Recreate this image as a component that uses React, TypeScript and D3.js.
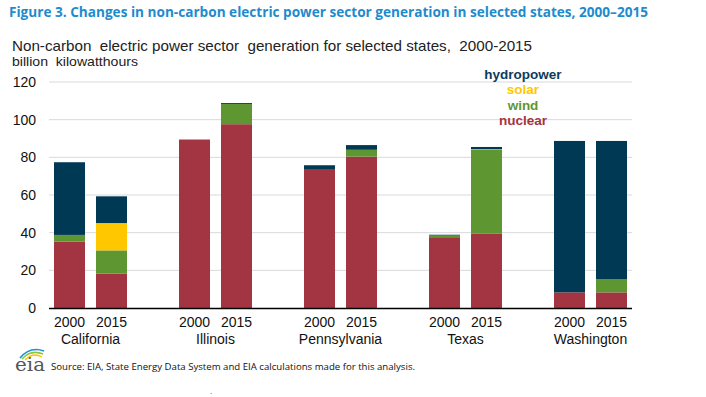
import React from "react";
import * as d3 from "d3";

const states = ["California", "Illinois", "Pennsylvania", "Texas", "Washington"];
const years = ["2000", "2015"];
const sources = ["nuclear", "wind", "solar", "hydropower"];
// values per state-year, in billion kWh, ordered as states x years
const nuclear = [35.2, 18.2, 89.3, 97.6, 73.8, 80.4, 37.6, 39.6, 8.3, 8.3];
const wind = [3.6, 12.4, 0.1, 10.7, 0.0, 3.5, 0.9, 44.3, 0.0, 7.1];
const solar = [0.0, 14.5, 0.0, 0.0, 0.0, 0.1, 0.0, 0.4, 0.0, 0.0];
const hydropower = [38.6, 14.2, 0.1, 0.5, 2.0, 2.5, 0.4, 1.2, 80.4, 73.3];
const yTicks = [0, 20, 40, 60, 80, 100, 120];

const colors: Record<string, string> = {
  nuclear: "#a33441",
  wind: "#5e9732",
  solar: "#ffc700",
  hydropower: "#003953",
};
const legendColors: Record<string, string> = {
  nuclear: "#a33441",
  wind: "#5e9732",
  solar: "#ffc700",
  hydropower: "#0d3b5c",
};

export default function App() {
  const W = 706, H = 397;
  const y = d3.scaleLinear().domain([0, 120]).range([308, 82]);
  const xState = d3.scaleBand().domain(states).range([28, 653]).padding(0);
  const xYear = d3.scaleBand().domain(years).range([26, 99]).paddingInner(11 / 42).paddingOuter(0);

  const rows = states.flatMap((s, i) =>
    years.map((yr, j) => {
      const k = i * 2 + j;
      return { state: s, year: yr, nuclear: nuclear[k], wind: wind[k], solar: solar[k], hydropower: hydropower[k] };
    })
  );
  const stack = d3.stack<any>().keys(sources)(rows);
  const font = "'Liberation Sans', Arial, sans-serif";

  return (
    <svg width={W} height={H} style={{ position: "absolute", left: 0, top: 0, background: "#fff" }}>
      <text x={9} y={17} fontFamily="'Open Sans', sans-serif" fontWeight={700} fontSize={14.5} fill="#1e8bcd" textLength={639} lengthAdjust="spacingAndGlyphs">
        Figure 3. Changes in non-carbon electric power sector generation in selected states, 2000–2015
      </text>
      <text x={12} y={51} fontFamily={font} fontSize={15} fill="#222" textLength={520} lengthAdjust="spacingAndGlyphs" style={{ whiteSpace: "pre" }}>
        {"Non-carbon  electric power sector  generation for selected states,  2000-2015"}
      </text>
      <text x={12} y={66} fontFamily={font} fontSize={13} fill="#222" textLength={126} lengthAdjust="spacingAndGlyphs" style={{ whiteSpace: "pre" }}>
        {"billion  kilowatthours"}
      </text>

      {yTicks.filter((t) => t > 0).map((t) => (
        <line key={t} x1={49} x2={632} y1={y(t)} y2={y(t)} stroke="#d9d9d9" strokeWidth={1} />
      ))}
      {yTicks.map((t) => (
        <text key={"l" + t} x={36} y={y(t) + 5} textAnchor="end" fontFamily={font} fontSize={14} fill="#111">
          {t}
        </text>
      ))}

      {stack.map((layer) => (
        <g key={layer.key} fill={colors[layer.key]}>
          {layer.map((d, i) => {
            const r = rows[i];
            const h = y(d[0]) - y(d[1]);
            if (h <= 0) return null;
            return (
              <rect key={i} x={(xState(r.state) || 0) + (xYear(r.year) || 0)} y={y(d[1])} width={xYear.bandwidth()} height={h} />
            );
          })}
        </g>
      ))}

      <line x1={49} x2={632} y1={308.5} y2={308.5} stroke="#000" strokeWidth={1.5} />

      {rows.map((r, i) => (
        <text key={"y" + i} x={(xState(r.state) || 0) + (xYear(r.year) || 0) + xYear.bandwidth() / 2} y={327} textAnchor="middle" fontFamily={font} fontSize={14} fill="#111">
          {r.year}
        </text>
      ))}
      {states.map((s) => (
        <text key={s} x={(xState(s) || 0) + xState.bandwidth() / 2} y={344} textAnchor="middle" fontFamily={font} fontSize={14} fill="#111">
          {s}
        </text>
      ))}

      {["hydropower", "solar", "wind", "nuclear"].map((k, i) => (
        <text key={k} x={523} y={79 + i * 15.3} textAnchor="middle" fontFamily={font} fontWeight={700} fontSize={13.5} fill={legendColors[k]}>
          {k}
        </text>
      ))}

      <g>
        <path d="M20,358 Q30,346 44,351" fill="none" stroke="#1f8fd0" strokeWidth={1.6} />
        <path d="M22,359 Q31,349 43,354" fill="none" stroke="#8cc63f" strokeWidth={1.6} />
        <path d="M25,360 Q33,352 42,357" fill="none" stroke="#f7c600" strokeWidth={1.4} />
        <text x={15} y={371} fontFamily="'DejaVu Serif', 'Liberation Serif', serif" fontSize={19} fill="#555" textLength={30} lengthAdjust="spacingAndGlyphs">
          eia
        </text>
      </g>
      <text x={51} y={370} fontFamily="'Open Sans', sans-serif" fontSize={9.5} fill="#111" textLength={364} lengthAdjust="spacingAndGlyphs">
        Source: EIA, State Energy Data System and EIA calculations made for this analysis.
      </text>
      <text x={210} y={394} fontFamily={font} fontSize={8} fill="#333">.</text>
    </svg>
  );
}
